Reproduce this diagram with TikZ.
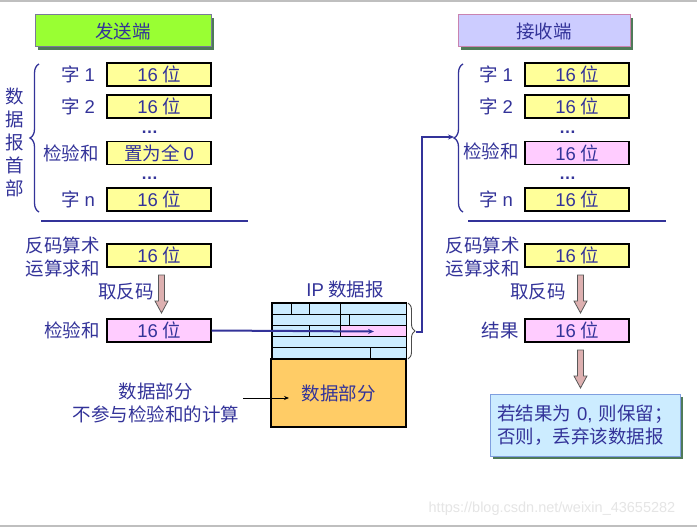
\documentclass[tikz,border=0pt]{standalone}
\usepackage{fontspec}
\setmainfont{Noto Sans CJK SC}
\newfontfamily\lat{Liberation Sans}
\usetikzlibrary{decorations.pathreplacing,shadows,calc,arrows.meta}
\definecolor{tblue}{HTML}{333399}
\definecolor{fyellow}{HTML}{FFFF99}
\definecolor{fpink}{HTML}{FFCCFF}
\definecolor{lblue}{HTML}{CCECFF}
\definecolor{forange}{HTML}{FFCC66}
\definecolor{hgreen}{HTML}{99FF33}
\definecolor{hlav}{HTML}{CCCCFF}
\definecolor{shgreen}{HTML}{4F7A58}
\definecolor{afill}{HTML}{DDB0B0}
\definecolor{rborder}{HTML}{7F9FDF}
\tikzset{
  field/.style={draw=black, line width=1.2pt, fill=fyellow, minimum width=104pt, minimum height=23pt, inner sep=0pt, text=tblue},
  pfield/.style={field, fill=fpink},
  lbl/.style={anchor=east, inner sep=0pt, text=tblue, align=right},
  ctext/.style={inner sep=0pt, text=tblue, align=center},
  dots/.style={inner sep=0pt, text=tblue, anchor=base, font=\lat\bfseries\fontsize{17}{20}\selectfont},
  headbox/.style={line width=1pt, minimum height=32pt, inner sep=0pt, text=tblue,
     drop shadow={shadow xshift=3pt, shadow yshift=-3pt, fill=shgreen, opacity=1}},
  bracedeco/.style={decorate, decoration={brace, amplitude=#1}, draw=tblue, line width=1.3pt},
  conn/.style={draw=tblue, line width=2pt},
  fatarrow/.style={draw=black!65, fill=afill, line width=0.8pt},
  thinarrow/.style={draw=black, line width=0.8pt, -{Stealth[length=5pt,width=4pt]}},
  gridline/.style={draw=black, line width=1pt},
}
\newcommand\sixteen{{\lat 16} 位}
\begin{document}
\begin{tikzpicture}[x=1pt,y=-1pt,font=\fontsize{18.5}{23}\selectfont]
\useasboundingbox (0,0) rectangle (697,527);
\fill[white] (0,0) rectangle (697,527);
\draw[black!25, line width=1.5pt] (0,1) -- (697,1);
\draw[black!25, line width=1.5pt] (0,526) -- (697,526);

% ---------- sender ----------
\node[headbox, draw=black!40!hlav, fill=hgreen, minimum width=176pt] (send) at (123,31) {发送端};
\node[field] (s1) at (159,74.5) {\sixteen};
\node[field] (s2) at (159,106.5) {\sixteen};
\node[field] (scs) at (159,153) {置为全 {\lat 0}};
\node[field] (sn) at (159,199.5) {\sixteen};
\node[dots] (sd1) at (149.5,134) {…};
\node[dots] (sd2) at (149.5,179) {…};
\node[lbl] (ls1) at (95,74.5) {字 {\lat 1}};
\node[lbl] (ls2) at (95,106.5) {字 {\lat 2}};
\node[lbl] (lscs) at (99,153) {检验和};
\node[lbl] (lsn) at (95,199.5) {字 {\lat n}};
\node[ctext] (hdr) at (15,142) {数\\据\\报\\首\\部};
\draw[bracedeco=9pt] (39,212) -- (39,64);
\draw[tblue, line width=2.2pt] (41,221) -- (248,221);
\node[field] (ssum) at (159,255.5) {\sixteen};
\node[lbl] (lssum) at (100,256.5) {反码算术\\运算求和};
\node[pfield] (sck) at (159,330.5) {\sixteen};
\node[lbl] (lsck) at (100,330.5) {检验和};
\node[lbl] (lsinv) at (154,292) {取反码};
\draw[fatarrow] (158.5,275) -- (164.5,275) -- (164.5,301) -- (168,301) -- (161.5,313) -- (155,301) -- (158.5,301) -- cycle;

% ---------- IP datagram ----------
\node[ctext] (iplbl) at (345,289) {{\lat IP} 数据报};
\node[draw=black, line width=1pt, fill=lblue, minimum width=134pt, minimum height=56pt, inner sep=0pt] (iph) at (339,331) {};
\fill[fpink] (340,325.4) rectangle (406,336.6);
\draw[gridline] (272,314.2) -- (406,314.2);
\draw[gridline] (272,325.4) -- (406,325.4);
\draw[gridline] (272,336.6) -- (406,336.6);
\draw[gridline] (272,347.8) -- (406,347.8);
\draw[gridline] (291,303) -- (291,314.2);
\draw[gridline] (309,303) -- (309,314.2);
\draw[gridline] (340,303) -- (340,325.4);
\draw[gridline] (349,314.2) -- (349,325.4);
\draw[gridline] (309,325.4) -- (309,336.6);
\draw[gridline] (340,325.4) -- (340,336.6);
\draw[gridline] (370,347.8) -- (370,359);
\draw[draw=black, line width=1pt] (iph.north west) rectangle (iph.south east);
\node[draw=black, line width=1.2pt, fill=forange, minimum width=135pt, minimum height=68pt, inner sep=0pt, text=tblue] (data) at (338.5,393) {数据部分};
\draw[decorate, decoration={brace, amplitude=7pt}, draw=black!70, line width=0.9pt] (408,303) -- (408,359);
\coordinate (ipt) at (416,331.5);
\coordinate (pinkend) at (374,331.5);
\draw[conn, -{Stealth[length=6pt,width=5pt]}] (sck.east) -- (pinkend);

\node[ctext] (note) at (156,402.5) {数据部分\\不参与检验和的计算};
\coordinate (na) at (243,398);
\coordinate (nb) at (289,398);
\draw[thinarrow] (na) -- (nb);

% ---------- receiver ----------
\node[headbox, draw=black!20!fpink!80!purple, fill=hlav, minimum width=172pt] (recv) at (544,31) {接收端};
\node[field] (r1) at (577,74.5) {\sixteen};
\node[field] (r2) at (577,106.5) {\sixteen};
\node[pfield] (rcs) at (577,153) {\sixteen};
\node[field] (rn) at (577,199.5) {\sixteen};
\node[dots] (rd1) at (567.5,134) {…};
\node[dots] (rd2) at (567.5,179) {…};
\node[lbl] (lr1) at (513,74.5) {字 {\lat 1}};
\node[lbl] (lr2) at (513,106.5) {字 {\lat 2}};
\node[lbl] (lrcs) at (519,151) {检验和};
\node[lbl] (lrn) at (513,199.5) {字 {\lat n}};
\draw[bracedeco=9pt] (463,212) -- (463,64);
\coordinate (rbt) at (454,137);
\draw[conn, -{Stealth[length=6pt,width=5pt]}] (ipt) -- ++(6,0) |- (rbt);
\draw[tblue, line width=2.2pt] (468,221) -- (666,221);
\node[field] (rsum) at (577,255.5) {\sixteen};
\node[lbl] (lrsum) at (520,256.5) {反码算术\\运算求和};
\node[lbl] (lrinv) at (566,292) {取反码};
\node[pfield] (rres) at (577,330.5) {\sixteen};
\node[lbl] (lrres) at (519,330.5) {结果};
\draw[fatarrow] (577.5,275) -- (583.5,275) -- (583.5,301) -- (587,301) -- (580.5,313) -- (574,301) -- (577.5,301) -- cycle;
\draw[fatarrow] (577.5,350) -- (583.5,350) -- (583.5,376) -- (587,376) -- (580.5,388) -- (574,376) -- (577.5,376) -- cycle;
\node[draw=rborder, line width=1pt, fill=lblue, minimum width=190pt, minimum height=62pt, inner sep=0pt, text=tblue, align=left, text width=176pt,
   drop shadow={shadow xshift=3pt, shadow yshift=-3pt, fill=shgreen, opacity=1}] (decide) at (585,425) {若结果为 {\lat 0,} 则保留；\\否则，丢弃该数据报};

\node[inner sep=0pt, text=black!10, font=\lat\fontsize{14.5}{16}\selectfont] (wm) at (552,509) {https://blog.csdn.net/weixin\_43655282};
\end{tikzpicture}
\end{document}
